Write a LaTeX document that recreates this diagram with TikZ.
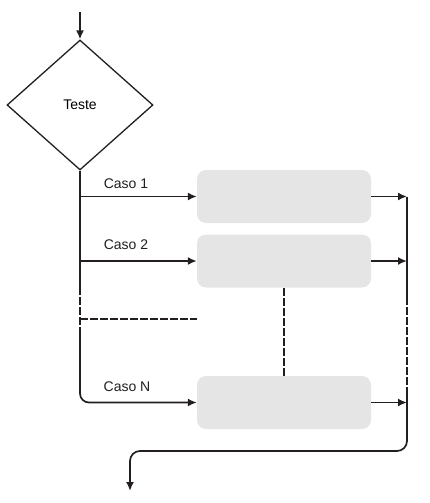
\documentclass[tikz,border=0pt]{standalone}
\usepackage{fontspec}
\setmainfont{Liberation Sans}
\usetikzlibrary{shapes.geometric,arrows.meta}
\definecolor{boxgray}{RGB}{229,229,229}
\definecolor{ink}{RGB}{35,31,32}
\begin{document}
\begin{tikzpicture}[x=1pt,y=-1pt,
  line/.style={draw=ink,line width=1.7pt},
  arr/.style={line,-{Latex[length=9pt,width=8pt]}},
  dsh/.style={line,dash pattern=on 8pt off 2pt},
  blk/.style={fill=boxgray,rounded corners=9pt,minimum width=174pt,minimum height=53pt,inner sep=0pt},
  lbl/.style={font=\fontsize{14pt}{16pt}\selectfont,text=ink,inner sep=0pt}]
\useasboundingbox (0,0) rectangle (429,503);
% decision
\node[diamond,draw=ink,line width=1.3pt,minimum width=146pt,minimum height=130pt,inner sep=0pt,font=\fontsize{14pt}{16pt}\selectfont] (d) at (80,105) {Teste};
\coordinate (start) at (80,12);
\draw[arr] (start) -- (d.north);
% blocks
\node[blk] (b1) at (284,196.5) {};
\node[blk] (b2) at (284,261) {};
\node[blk] (b3) at (284,402.5) {};
% labels
\node[lbl] (l1) at (126,184) {Caso 1};
\node[lbl] (l2) at (126,245) {Caso 2};
\node[lbl] (l3) at (127,387) {Caso N};
% trunk
\coordinate (t1) at (80,287);
\coordinate (t2) at (80,333);
\coordinate (h1) at (197,319);
\draw[line] (d.south) -- (t1);
\draw[dsh] (t1) -- (t2);
\draw[dsh] (h1 -| d.south) -- (h1);
\draw[arr] (b1.west -| d.south) -- (b1.west);
\draw[arr] (b2.west -| d.south) -- (b2.west);
\draw[arr,rounded corners=9pt] (t2) -- (b3.west -| d.south) -- (b3.west);
% middle dashed
\draw[dsh] (b2.south) -- (b3.north);
% right collector
\coordinate (r0) at (407,196.5);
\coordinate (r1) at (407,297);
\coordinate (r2) at (407,390);
\coordinate (bl) at (130,451);
\coordinate (end) at (130,491);
\draw[arr] (b1.east) -- (b1.east -| r0);
\draw[arr] (b2.east) -- (b2.east -| r0);
\draw[arr] (b3.east) -- (b3.east -| r0);
\draw[line] (r0) -- (r1);
\draw[dsh] (r1) -- (r2);
\draw[arr,rounded corners=10pt] (r2) -- (r2 |- bl) -- (bl) -- (end);
\end{tikzpicture}
\end{document}
